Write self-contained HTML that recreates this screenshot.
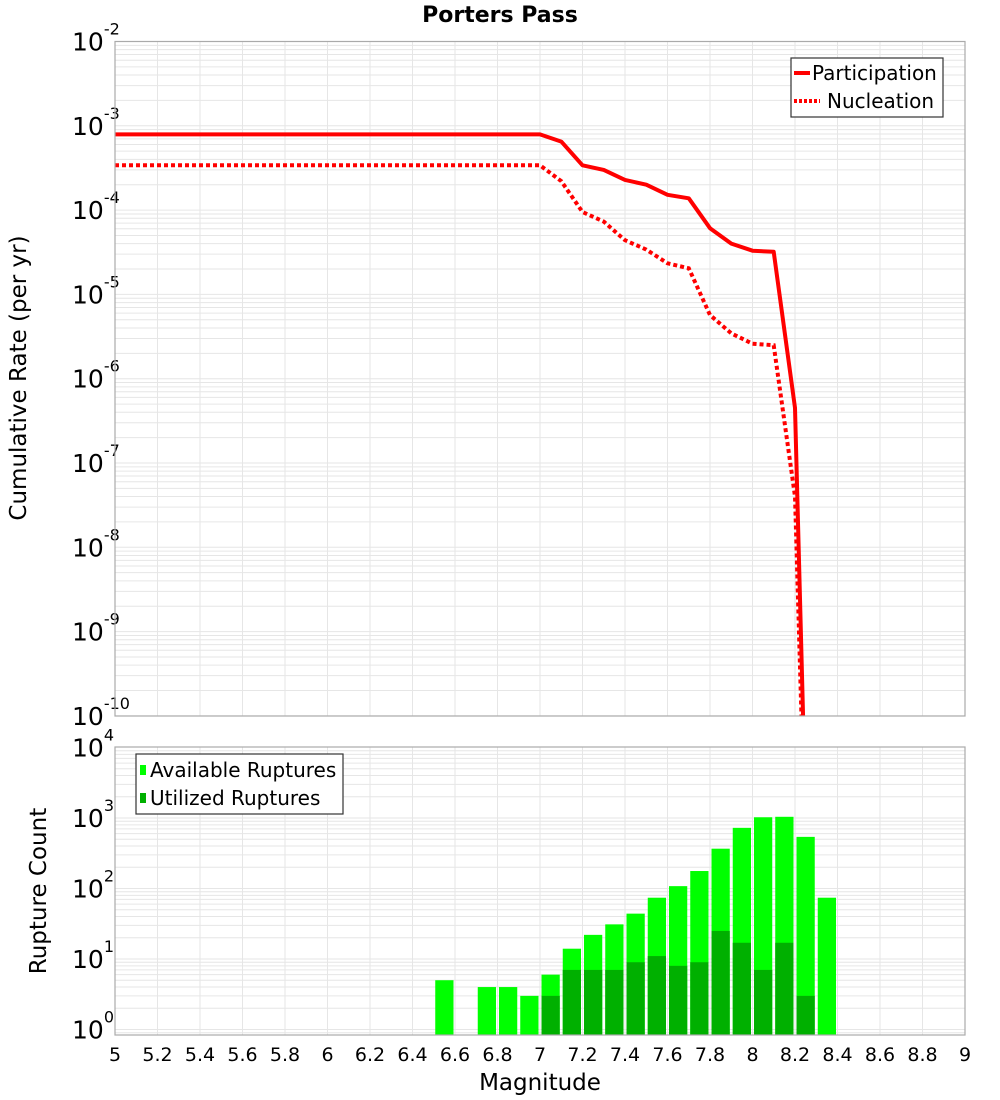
<!DOCTYPE html>
<html><head><meta charset="utf-8"><style>
html,body{margin:0;background:#fff;width:1000px;height:1100px;overflow:hidden;}
svg{display:block;}
svg text{font-family:"DejaVu Sans","Liberation Sans",sans-serif;}
</style></head><body>
<svg id="chart" width="1000" height="1100" xmlns="http://www.w3.org/2000/svg">
<defs>
<clipPath id="clipTop"><rect x="115" y="41.5" width="850" height="675"/></clipPath>
<clipPath id="clipBot"><rect x="115" y="747" width="850" height="288"/></clipPath>
</defs>
<text x="500" y="22" font-size="22" font-weight="bold" text-anchor="middle">Porters Pass</text>
<text transform="translate(26,378) rotate(-90)" font-size="23" text-anchor="middle">Cumulative Rate (per yr)</text>
<text transform="translate(46,891) rotate(-90)" font-size="23" text-anchor="middle">Rupture Count</text>
<text x="540" y="1090" font-size="23" text-anchor="middle">Magnitude</text>
<g id="gTop"></g>
<g id="gBot"></g>
</svg>
<script>
const magsLine=[5.0,7.0,7.1,7.2,7.3,7.4,7.5,7.6,7.7,7.8,7.9,8.0,8.1,8.2,8.3];
const participation=[7.9e-4,7.9e-4,6.5e-4,3.4e-4,3.0e-4,2.28e-4,2.0e-4,1.52e-4,1.38e-4,6.1e-5,4.0e-5,3.3e-5,3.2e-5,4.5e-7,1e-16];
const nucleation=[3.4e-4,3.4e-4,2.2e-4,9.5e-5,7.3e-5,4.4e-5,3.4e-5,2.34e-5,2.04e-5,5.7e-6,3.45e-6,2.6e-6,2.5e-6,4e-8,1e-16];
const binMags=[6.5,6.7,6.8,6.9,7.0,7.1,7.2,7.3,7.4,7.5,7.6,7.7,7.8,7.9,8.0,8.1,8.2,8.3];
const available=[5,4,4,3,6,14,22,31,44,74,108,177,367,725,1025,1040,540,74];
const utilized=[0,0,0,0,3,7,7,7,9,11,8,9,25,17,7,17,3,0];
const xTicks=[5,5.2,5.4,5.6,5.8,6,6.2,6.4,6.6,6.8,7,7.2,7.4,7.6,7.8,8,8.2,8.4,8.6,8.8,9];
const topExps=[-2,-3,-4,-5,-6,-7,-8,-9,-10];
const botExps=[4,3,2,1,0];

const NS="http://www.w3.org/2000/svg";
function X(m){return 115+(m-5)*212.5;}
function YT(v){return 41.5+(-2-Math.log10(v))*84.3;}
function YB(v){return 1029.5-Math.log10(v)*70.5;}
function mk(tag,attrs,parent){const e=document.createElementNS(NS,tag);for(const k in attrs)e.setAttribute(k,attrs[k]);parent.appendChild(e);return e;}
const gT=document.getElementById('gTop'),gB=document.getElementById('gBot'),svg=document.getElementById('chart');

function grid(g,y0,y1,yf,expLo,expHi){
  xTicks.forEach(t=>{const l=mk('line',{x1:X(t),x2:X(t),y1:y0,y2:y1,stroke:'#e6e6e6','stroke-width':1},g);
    
    });
  for(let e=expLo;e<expHi;e++){for(let k=1;k<10;k++){const y=yf(k*Math.pow(10,e));if(y<y0-0.5||y>y1+0.5)continue;
    const l=mk('line',{x1:115,x2:965,y1:y,y2:y,stroke:'#e6e6e6','stroke-width':1},g);
    
    }}
}
function frame(g,y0,y1){const r=mk('rect',{x:115,y:y0,width:850,height:y1-y0,fill:'none',stroke:'#aaa','stroke-width':1.2},g);
  
  }
function ylab(g,e,y){const t=mk('text',{x:72,y:y+9,'font-size':25},g);
  
  
  const a=document.createElementNS(NS,'tspan');a.textContent='10';t.appendChild(a);
  const b=document.createElementNS(NS,'tspan');b.setAttribute('dy','-16');b.setAttribute('font-size','16');b.textContent=String(e);t.appendChild(b);}

grid(gT,41.5,716,YT,-10,-2);
topExps.forEach(e=>ylab(gT,e,YT(Math.pow(10,e))));
const lg=mk('g',{'clip-path':'url(#clipTop)'},gT);
function linePath(vals){return vals.map((v,i)=>(i?'L':'M')+X(magsLine[i]).toFixed(1)+','+YT(v).toFixed(1)).join(' ');}
const p1=mk('path',{d:linePath(participation),fill:'none',stroke:'#ff0000','stroke-width':4,'stroke-linejoin':'round'},lg);


const p2=mk('path',{d:linePath(nucleation),fill:'none',stroke:'#ff0000','stroke-width':4,'stroke-dasharray':'4 3'},lg);


frame(gT,41.5,716);
const leg=mk('g',{},gT);


mk('rect',{x:791,y:58,width:152,height:59,fill:'#fff',stroke:'#333','stroke-width':1.2},leg);
mk('line',{x1:794,x2:810,y1:73,y2:73,stroke:'#f00','stroke-width':4},leg);
mk('line',{x1:794,x2:820,y1:101,y2:101,stroke:'#f00','stroke-width':4,'stroke-dasharray':'3 2'},leg);
const lt1=mk('text',{x:812,y:80,'font-size':20},leg);lt1.textContent='Participation';


const lt2=mk('text',{x:827,y:108,'font-size':20},leg);lt2.textContent='Nucleation';



grid(gB,747,1035,YB,-1,4);
botExps.forEach(e=>ylab(gB,e,YB(Math.pow(10,e))));
const bg=mk('g',{'clip-path':'url(#clipBot)'},gB);
binMags.forEach((m,i)=>{
  const x0=X(m)+1.5,w=X(m+0.1)-X(m)-3;
  if(available[i]>0){const r=mk('rect',{x:x0,y:YB(available[i]),width:w,height:1036-YB(available[i]),fill:'#00ff00'},bg);
    
    }
  if(utilized[i]>0){const r=mk('rect',{x:x0,y:YB(utilized[i]),width:w,height:1036-YB(utilized[i]),fill:'#00b000'},bg);
    
    }
});
frame(gB,747,1035);
const leg2=mk('g',{},gB);


mk('rect',{x:136,y:754,width:207,height:60,fill:'#fff',stroke:'#333','stroke-width':1.2},leg2);
mk('rect',{x:140,y:765,width:6,height:10,fill:'#00ff00'},leg2);
mk('rect',{x:140,y:793,width:6,height:10,fill:'#00b000'},leg2);
const bt1=mk('text',{x:150,y:777,'font-size':20},leg2);bt1.textContent='Available Ruptures';


const bt2=mk('text',{x:150,y:805,'font-size':20},leg2);bt2.textContent='Utilized Ruptures';


xTicks.forEach(t=>{const tx=mk('text',{x:X(t),y:1061,'font-size':19,'text-anchor':'middle'},svg);
  tx.textContent=String(t);
  
  });
</script>
</body></html>
